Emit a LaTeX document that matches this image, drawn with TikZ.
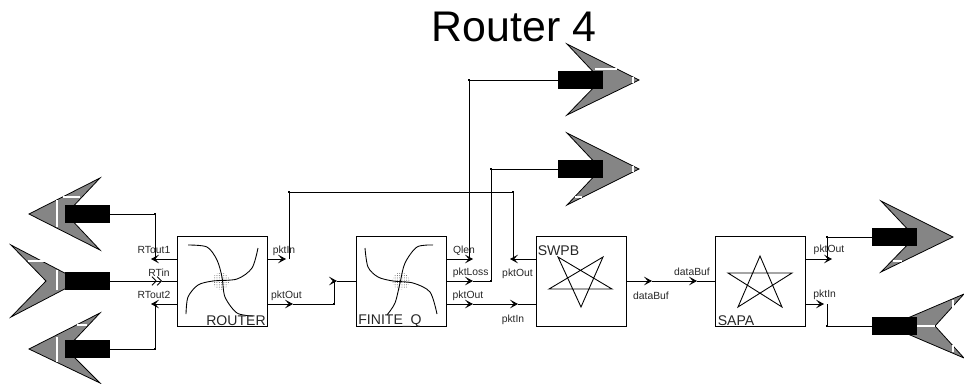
\documentclass[tikz,border=0pt]{standalone}
\usepackage{fontspec}
\setmainfont{Liberation Sans}
\usetikzlibrary{arrows.meta,patterns.meta}
\definecolor{portgray}{HTML}{858585}

\tikzset{
  unitbox/.style={draw,line width=0.5pt,minimum width=1.8cm,minimum height=1.8cm,inner sep=0pt},
  plug/.style={fill=black,minimum width=0.9cm,minimum height=0.36cm,inner sep=0pt},
  jn/.style={fill=black,minimum size=0.04cm,inner sep=0pt},
  hub/.style={circle,minimum size=0.34cm,inner sep=0pt,pattern={Dots[distance=1.3pt,radius=0.28pt]},pattern color=black!65},
  port/.style={fill=portgray,draw=black,line width=0.45pt},
  glint/.style={draw=white,line width=0.6pt},
  wire/.style={line width=0.5pt},
  sig/.style={line width=0.5pt,-{Stealth[length=4.6pt,width=5pt,inset=2.2pt]}},
  sigtwo/.style={line width=0.5pt,-{Straight Barb[length=2.4pt,width=5pt]Straight Barb[length=2.4pt,width=5pt]}},
  curve/.style={line width=0.5pt,smooth},
  lbl/.style={anchor=base,inner sep=0pt,font=\fontsize{5.9}{7}\selectfont,text=black!85},
  unitlbl/.style={anchor=base,inner sep=0pt,font=\fontsize{8}{9}\selectfont,text=black!85}
}

\begin{document}
\begin{tikzpicture}[x=0.02cm,y=-0.02cm]
  \useasboundingbox (0,0) rectangle (964,383);
  \node[anchor=base,inner sep=0pt,font=\fontsize{24.4}{28}\selectfont] (title) at (514,41) {Router 4};

  % ports, left
  \draw[port] (100,178) -- (29,214) -- (100,250) -- (66,214) -- cycle;
  \draw[port] (11,245) -- (80,281) -- (11,317) -- (46,281) -- cycle;
  \draw[port] (100,313) -- (29,349) -- (100,383) -- (66,349) -- cycle;
  \draw[glint] (57,200) -- (57,227) (63,197) -- (80,197);
  \draw[glint] (57,270) -- (57,290) (28,261) -- (47,261);
  \draw[glint] (57,337) -- (57,362) (77,325) -- (87,325);
  % ports, top
  \draw[port] (567,44) -- (639,80) -- (567,115) -- (601,80) -- cycle;
  \draw[port] (567,133) -- (639,169) -- (567,205) -- (601,169) -- cycle;
  \draw[glint] (595,69) -- (617,69) (633,77) -- (633,83);
  \draw[glint] (633,166) -- (633,172) (575,197) -- (582,197);
  % ports, right
  \draw[port] (881,201) -- (953,237) -- (881,272) -- (915,237) -- cycle;
  \draw[port] (964,294) -- (889,326) -- (964,358) -- (935,326) -- cycle;
  \draw[glint] (893,261) -- (902,261);
  \draw[glint] (917,326) -- (935,326) (953,300) -- (953,308) (953,345) -- (953,352);

  \node[plug] (plugA) at (87.5,214) {};
  \node[plug] (plugB) at (87.5,281) {};
  \node[plug] (plugC) at (87.5,349) {};
  \node[plug] (plugD) at (580.5,80) {};
  \node[plug] (plugE) at (580.5,169) {};
  \node[plug] (plugF) at (894.5,237) {};
  \node[plug] (plugG) at (894.5,326) {};

  % units
  \node[unitbox] (router) at (222,281) {};
  \node[unitbox] (finite) at (401,281) {};
  \node[unitbox] (swpb) at (581,281) {};
  \node[unitbox] (sapa) at (760,281) {};

  \node[hub] (routerHub) at (221,281) {};
  \node[hub] (finiteHub) at (401,281) {};
  \draw[curve] plot coordinates {(188,245) (207,247) (217,260) (222,277) (225,297) (237,313) (253,316)};
  \draw[curve] plot coordinates {(186,314) (188,297) (198,285) (213,281) (237,279) (252,268) (258,248)};
  \draw[curve] plot coordinates {(365,248) (368,267) (378,277) (393,281) (413,283) (430,292) (437,314)};
  \draw[curve] plot coordinates {(433,245) (417,247) (405,263) (400,283) (395,303) (387,315)};
  \draw[wire] (558,257) -- (612,289) -- (549,289) -- (603,257) -- (581,307) -- cycle;
  \draw[wire] (760,256) -- (738,307) -- (792,273) -- (728,273) -- (782,307) -- cycle;

  \node[unitlbl] (routerName) at (236,325) {ROUTER};
  \node[unitlbl] (finiteName) at (390,324.5) {FINITE\_Q};
  \node[unitlbl] (swpbName) at (558.5,255) {SWPB};
  \node[unitlbl] (sapaName) at (736,325) {SAPA};

  % corners and tips
  \node[jn] (cornerA) at (155,214) {};
  \node[jn] (cornerC) at (155,349) {};
  \node[jn] (cornerR) at (289,192) {};
  \node[jn] (cornerS) at (513,192) {};
  \node[jn] (cornerO) at (334,304) {};
  \node[jn] (cornerQ) at (469,80) {};
  \node[jn] (cornerL) at (491,169) {};
  \node[jn] (cornerM) at (491,281) {};
  \node[jn] (cornerF) at (827,237) {};
  \node[jn] (cornerG) at (827,326) {};
  \coordinate (tipRTa) at (151,259);
  \coordinate (tipRTb) at (162,281);
  \coordinate (tipRTc) at (151,304);
  \coordinate (tipIn) at (286,259);
  \coordinate (tipOut) at (293,304);
  \coordinate (tipCorner) at (337,281);
  \coordinate (tipQlen) at (473,259);
  \coordinate (tipLoss) at (473,281);
  \coordinate (tipPktA) at (473,304);
  \coordinate (tipPktB) at (518,304);
  \coordinate (tipBack) at (510,259);
  \coordinate (tipBufA) at (652,281);
  \coordinate (tipBufB) at (697,281);
  \coordinate (tipSapaO) at (832,259);
  \coordinate (tipSapaI) at (824,304);

  % left side
  \draw[wire] (plugA) -- (cornerA.center) -- (cornerA |- tipRTa);
  \draw[sig] (router.west |- tipRTa) -- (tipRTa);
  \draw[sigtwo] (plugB) -- (tipRTb);
  \draw[wire] (tipRTb) -- (router.west |- tipRTb);
  \draw[wire] (plugC) -- (cornerC.center) -- (cornerC |- tipRTc);
  \draw[sig] (router.west |- tipRTc) -- (tipRTc);

  % router to queue
  \draw[sig] (router.east |- tipIn) -- (tipIn);
  \draw[wire] (cornerR |- tipIn) -- (cornerR.center) -- (cornerS.center) -- (cornerS |- tipBack);
  \draw[sig] (swpb.west |- tipBack) -- (tipBack);
  \draw[sig] (router.east |- tipOut) -- (tipOut);
  \draw[wire] (tipOut) -- (cornerO.center) -- (cornerO |- tipCorner);
  \draw[sig] (cornerO |- tipCorner) -- (tipCorner);
  \draw[wire] (tipCorner) -- (finite.west |- tipCorner);

  % queue to outputs
  \draw[sig] (finite.east |- tipQlen) -- (tipQlen);
  \draw[wire] (cornerQ |- tipQlen) -- (cornerQ.center) -- (plugD);
  \draw[sig] (finite.east |- tipLoss) -- (tipLoss);
  \draw[wire] (tipLoss) -- (cornerM.center) -- (cornerL.center) -- (plugE);
  \draw[sig] (finite.east |- tipPktA) -- (tipPktA);
  \draw[sig] (tipPktA) -- (tipPktB);
  \draw[wire] (tipPktB) -- (swpb.west |- tipPktB);

  % buffer and sapa
  \draw[sig] (swpb.east |- tipBufA) -- (tipBufA);
  \draw[sig] (tipBufA) -- (tipBufB);
  \draw[wire] (tipBufB) -- (sapa.west |- tipBufB);
  \draw[sig] (sapa.east |- tipSapaO) -- (tipSapaO);
  \draw[wire] (cornerF |- tipSapaO) -- (cornerF.center) -- (plugF);
  \draw[sig] (sapa.east |- tipSapaI) -- (tipSapaI);
  \draw[wire] (cornerG |- tipSapaI) -- (cornerG.center) -- (plugG);

  % labels
  \node[lbl] (lblRTa) at (154,253) {RTout1};
  \node[lbl] (lblRTb) at (159,276) {RTin};
  \node[lbl] (lblRTc) at (154,298) {RTout2};
  \node[lbl] (lblIn) at (284,253) {pktIn};
  \node[lbl] (lblOut) at (286.5,298) {pktOut};
  \node[lbl] (lblQlen) at (464,253) {Qlen};
  \node[lbl] (lblLoss) at (470.7,275) {pktLoss};
  \node[lbl] (lblPktA) at (468,298) {pktOut};
  \node[lbl] (lblBack) at (517.5,276) {pktOut};
  \node[lbl] (lblPktB) at (513,322) {pktIn};
  \node[lbl] (lblBufA) at (651,299) {dataBuf};
  \node[lbl] (lblBufB) at (692,275) {dataBuf};
  \node[lbl] (lblSapaO) at (829,252) {pktOut};
  \node[lbl] (lblSapaI) at (824.7,297) {pktIn};
\end{tikzpicture}
\end{document}
